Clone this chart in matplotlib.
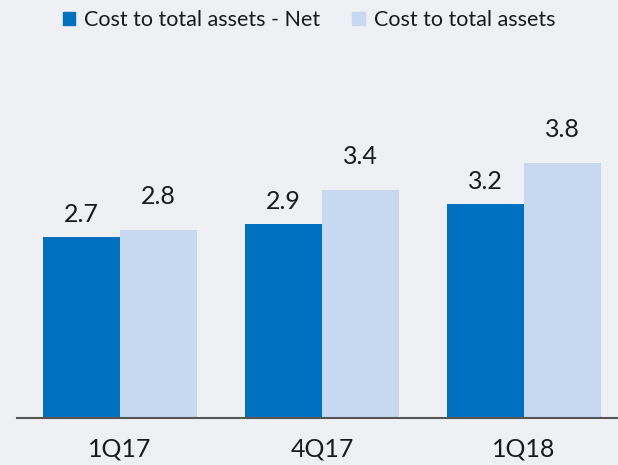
import matplotlib.pyplot as plt
import numpy as np
from matplotlib.patches import Patch

plt.rcParams['font.family'] = ['Lato', 'DejaVu Sans']

# data
quarters = ['1Q17', '4Q17', '1Q18']
net_cost = [2.7, 2.9, 3.2]
total_cost = [2.8, 3.4, 3.8]
series_names = ['Cost to total assets - Net', 'Cost to total assets']

dark = '#0070C0'
light = '#C6D9F0'
bg = '#EFF0F4'

fig = plt.figure(figsize=(6.18, 4.65), dpi=100, facecolor=bg)
ax = fig.add_axes([17 / 618, 47 / 465, 1 - 17 / 618, 418 / 465])
ax.set_facecolor(bg)

x = np.arange(len(quarters))
w = 77 / 202
b1 = ax.bar(x - w / 2, net_cost, w, color=dark)
b2 = ax.bar(x + w / 2, total_cost, w, color=light)

# labels on the light bars sit higher in the original
for bars, vals, off in [(b1, net_cost, 8), (b2, total_cost, 16)]:
    for r, v in zip(bars, vals):
        ax.annotate('%.1f' % v, (r.get_x() + r.get_width() / 2, v),
                    xytext=(0, off), textcoords='offset points',
                    ha='center', va='bottom', fontsize=18, color='#1a1a1a')

ax.set_xlim(-103 / 202, 498 / 202)
ax.set_ylim(0, 6.24)
ax.set_xticks(x)
ax.set_xticklabels(quarters, fontsize=18, color='#1a1a1a')
ax.tick_params(axis='x', length=0, pad=14)
ax.set_yticks([])
for s in ['top', 'right', 'left']:
    ax.spines[s].set_visible(False)
ax.spines['bottom'].set_color('#555555')
ax.spines['bottom'].set_linewidth(1.5)

handles = [Patch(color=dark), Patch(color=light)]
fig.legend(handles, series_names, loc='upper center', bbox_to_anchor=(0.5, 1.02),
           ncol=2, frameon=False, fontsize=15.5, handlelength=0.6, handleheight=0.6,
           handletextpad=0.4, columnspacing=1.5, labelcolor='#1a1a1a')

fig.savefig('out.png', dpi=100, facecolor=bg)
